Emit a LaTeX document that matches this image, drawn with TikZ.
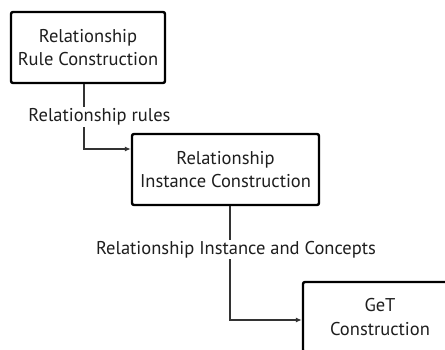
\documentclass[tikz,border=0pt]{standalone}
\usepackage{fontspec}
\setmainfont{PT Sans}
\usetikzlibrary{arrows.meta}
\definecolor{txt}{HTML}{1E1E1E}
\definecolor{ln}{HTML}{333333}
\begin{document}
\begin{tikzpicture}[x=1pt,y=-1pt,
  box/.style={draw=black,line width=2.4pt,rounded corners=2pt,fill=white,align=center,
    text=txt,font=\fontsize{18.5}{23.5}\selectfont,inner sep=0pt},
  conn/.style={draw=ln,line width=1.1pt,-{Latex[length=6pt,width=5pt]}},
  lbl/.style={fill=white,text=txt,font=\fontsize{18.5}{21}\selectfont,inner sep=1.5pt}]
\useasboundingbox (0,0) rectangle (445,349);
\clip (0,0) rectangle (445,349);
\node[box,minimum width=154pt,minimum height=71pt] (b1) at (88,47.5) {Relationship\\Rule Construction};
\node[box,minimum width=187pt,minimum height=71pt] (b2) at (225.5,169.5) {Relationship\\Instance Construction};
\node[box,minimum width=154pt,minimum height=70pt] (b3) at (380,317) {GeT\\Construction};
\coordinate (c1) at (84,149);
\coordinate (c2) at (230,320);
\draw[conn] (b1.south -| c1) -- (c1) -- (c1 -| b2.west);
\draw[conn] (b2.south -| c2) -- (c2) -- (c2 -| b3.west);
\node[lbl] (l1) at (99.5,117) {Relationship rules};
\node[lbl] (l2) at (236,249.5) {Relationship Instance and Concepts};
\end{tikzpicture}
\end{document}
